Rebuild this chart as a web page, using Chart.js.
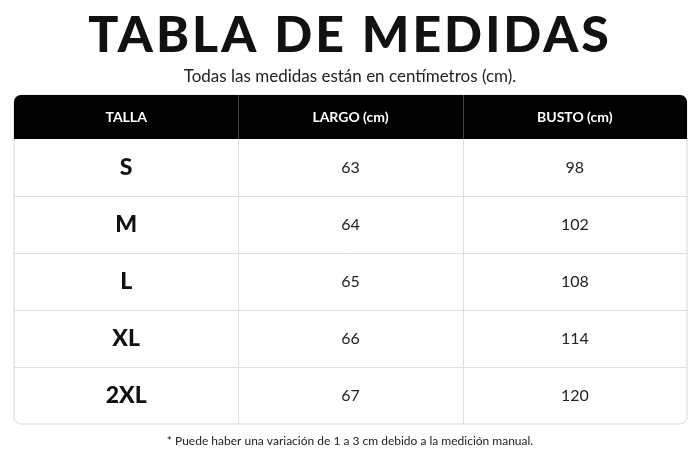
<!DOCTYPE html>
<html>
<head>
<meta charset="utf-8">
<script src="https://cdn.jsdelivr.net/npm/chart.js@4"></script>
<style>
  html, body { margin: 0; padding: 0; background: #fff; }
  #wrap { width: 700px; height: 467px; }
</style>
</head>
<body>
<div id="wrap"><canvas id="sizeChart"></canvas></div>
<script>
const titleText = "TABLA DE MEDIDAS";
const subtitleText = "Todas las medidas están en centímetros (cm).";
const footText = "* Puede haber una variación de 1 a 3 cm debido a la medición manual.";
const headers = ["TALLA", "LARGO (cm)", "BUSTO (cm)"];
const sizes = ["S", "M", "L", "XL", "2XL"];
const largo = [63, 64, 65, 66, 67];
const busto = [98, 102, 108, 114, 120];

const headerUnits = 44 / 57; // header band height relative to a row

const tablePlugin = {
    id: 'tablePlugin',
    afterDraw(chart) {
        const ctx = chart.ctx;
        const x = chart.scales.x;
        const y = chart.scales.y;
        const area = chart.chartArea;
        const left = x.getPixelForValue(0), right = x.getPixelForValue(3);
        const top = y.getPixelForValue(-headerUnits), bottom = y.getPixelForValue(sizes.length);
        const headBottom = y.getPixelForValue(0);
        ctx.save();

        // title
        ctx.fillStyle = '#111';
        ctx.textAlign = 'center';
        ctx.textBaseline = 'middle';
        ctx.font = '900 50px Lato';
        ctx.letterSpacing = '3px';
        ctx.fillText(titleText, chart.width / 2, 36);
        ctx.letterSpacing = '0px';
        ctx.font = '17px Lato';
        ctx.fillStyle = '#222';
        ctx.fillText(subtitleText, chart.width / 2, 77);

        // outer border
        ctx.beginPath();
        ctx.roundRect(left, top, right - left, bottom - top, 7);
        ctx.strokeStyle = '#d9d9d9';
        ctx.lineWidth = 1;
        ctx.stroke();

        // header band
        ctx.beginPath();
        ctx.roundRect(left, top, right - left, headBottom - top, [7, 7, 0, 0]);
        ctx.fillStyle = '#000';
        ctx.fill();

        // row separators
        ctx.strokeStyle = '#dedede';
        for (let i = 1; i < sizes.length; i++) {
            const py = Math.round(y.getPixelForValue(i)) + 0.5;
            ctx.beginPath();
            ctx.moveTo(left, py);
            ctx.lineTo(right, py);
            ctx.stroke();
        }
        // column separators
        for (let c = 1; c < headers.length; c++) {
            const px = Math.round(x.getPixelForValue(c)) + 0.5;
            ctx.beginPath();
            ctx.moveTo(px, headBottom);
            ctx.lineTo(px, bottom);
            ctx.stroke();
            ctx.strokeStyle = '#444';
            ctx.beginPath();
            ctx.moveTo(px, top);
            ctx.lineTo(px, headBottom);
            ctx.stroke();
            ctx.strokeStyle = '#dedede';
        }

        // header text
        ctx.fillStyle = '#fff';
        ctx.font = 'bold 14px Lato';
        headers.forEach((h, c) => {
            ctx.fillText(h, x.getPixelForValue(c + 0.5), y.getPixelForValue(-headerUnits / 2));
        });

        // rows
        sizes.forEach((s, i) => {
            const cy = y.getPixelForValue(i + 0.5);
            ctx.fillStyle = '#111';
            ctx.font = '900 23px Lato';
            ctx.fillText(s, x.getPixelForValue(0.5), cy);
            ctx.fillStyle = '#222';
            ctx.font = '16px Lato';
            ctx.fillText(String(largo[i]), x.getPixelForValue(1.5), cy);
            ctx.fillText(String(busto[i]), x.getPixelForValue(2.5), cy);
        });

        // footnote
        ctx.fillStyle = '#222';
        ctx.font = '12px Lato';
        ctx.fillText(footText, chart.width / 2, 441);
        ctx.restore();
    }
};

window.onload = (event) => {
    const ctx = document.getElementById('sizeChart').getContext('2d');
    new Chart(ctx, {
        type: 'scatter',
        data: { datasets: [{ data: [], pointRadius: 0 }] },
        options: {
            responsive: true,
            maintainAspectRatio: false,
            animation: false,
            layout: { padding: { left: 14, right: 13, top: 95, bottom: 43 } },
            plugins: { legend: { display: false }, tooltip: { enabled: false } },
            scales: {
                x: { type: 'linear', min: 0, max: headers.length, display: false },
                y: { type: 'linear', min: -headerUnits, max: sizes.length, reverse: true, display: false }
            }
        },
        plugins: [tablePlugin]
    });
};
</script>
</body>
</html>
